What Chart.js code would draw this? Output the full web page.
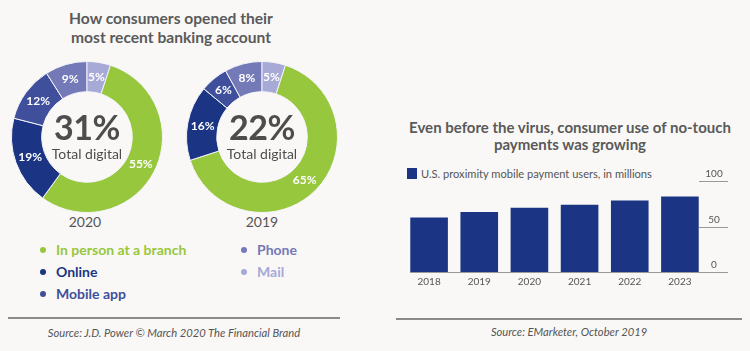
<!DOCTYPE html>
<html>
<head>
<meta charset="utf-8">
<script src="https://cdn.jsdelivr.net/npm/chart.js@4.4.1/dist/chart.umd.min.js"></script>
<style>
  html, body { margin: 0; padding: 0; }
  body {
    width: 750px; height: 351px; position: relative; overflow: hidden;
    background: #f9f8f6; font-family: Lato, "Open Sans", sans-serif; color: #555;
  }
  .abs { position: absolute; }
  .title { font-weight: 700; color: #5a5a5a; text-align: center; line-height: 19px; }
  canvas { position: absolute; }
  .center { text-align: center; color: #4d4d4d; }
  .big { font-size: 34px; font-weight: 700; line-height: 36px; letter-spacing: -0.5px; }
  .small { font-size: 14px; line-height: 17px; }
  .year { font-size: 14px; color: #555; width: 60px; text-align: center; }
  .leg { font-size: 14px; font-weight: 700; line-height: 16px; white-space: nowrap; }
  .leg span.dot { display: inline-block; width: 6px; height: 6px; border-radius: 50%; margin-right: 10px; vertical-align: 2px; }
  .rule { height: 2px; background: #8a8a8a; }
  .src { font-size: 11.2px; font-style: italic; color: #555; text-align: center; }
</style>
</head>
<body>
<div class="abs title" style="left:20px; top:9px; width:302px; font-size:15.6px;">How consumers opened their<br>most recent banking account</div>

<canvas id="donut2020" width="152" height="152" style="left:11px; top:61px;"></canvas>
<canvas id="donut2019" width="152" height="152" style="left:186px; top:61px;"></canvas>

<div class="abs center" style="left:37px; top:109px; width:100px;"><div class="big" id="total2020"></div><div class="small">Total digital</div></div>
<div class="abs center" style="left:212px; top:109px; width:100px;"><div class="big" id="total2019"></div><div class="small">Total digital</div></div>

<div class="abs year" style="left:55px; top:213px;">2020</div>
<div class="abs year" style="left:232px; top:213px;">2019</div>

<div class="abs" id="legendLeft" style="left:40px; top:242px;"></div>
<div class="abs" id="legendRight" style="left:241px; top:242px;"></div>

<div class="abs rule" style="left:8px; top:317px; width:332px;"></div>
<div class="abs src" style="left:8px; top:326px; width:332px;">Source: J.D. Power © March 2020 The Financial Brand</div>

<div class="abs title" style="left:395px; top:119px; width:350px; font-size:15px; line-height:17px;">Even before the virus, consumer use of no-touch<br>payments was growing</div>
<div class="abs" style="left:407px; top:167px; font-size:11.1px; line-height:14px; color:#555; white-space:nowrap;"><span style="display:inline-block; width:10px; height:11px; background:#1b3584; vertical-align:-1px; margin-right:4px;"></span>U.S. proximity mobile payment users, in millions</div>

<canvas id="bars" width="340" height="135" style="left:400px; top:160px;"></canvas>

<div class="abs rule" style="left:396px; top:318px; width:346px;"></div>
<div class="abs src" style="left:396px; top:325px; width:346px;">Source: EMarketer, October 2019</div>

<script>
// Donut data
const channels = ['In person at a branch', 'Online', 'Mobile app', 'Phone', 'Mail'];
const share2020 = [55, 19, 12, 9, 5];
const share2019 = [65, 16, 6, 8, 5];
const totalDigital2020 = '31%';
const totalDigital2019 = '22%';
const channelColors = ['#96c73d', '#1b3584', '#3f4f9c', '#7479b8', '#a7a9d6'];

// Bar data
const years = ['2018', '2019', '2020', '2021', '2022', '2023'];
const mobileUsers = [60, 66, 70.5, 74, 78.5, 83];
const yTicks = [0, 50, 100];

document.getElementById('total2020').textContent = totalDigital2020;
document.getElementById('total2019').textContent = totalDigital2019;

// legend in two columns like the original
function legendItem(i) {
  return '<div class="leg" style="color:' + channelColors[i] + '; margin-bottom:6px;"><span class="dot" style="background:' + channelColors[i] + '"></span>' + channels[i] + '</div>';
}
document.getElementById('legendLeft').innerHTML = [0, 1, 2].map(legendItem).join('');
document.getElementById('legendRight').innerHTML = [3, 4].map(legendItem).join('');

// write the % on each slice, at the arc's own center point
const sliceLabels = {
  id: 'sliceLabels',
  afterDatasetsDraw(chart) {
    const ctx = chart.ctx;
    const meta = chart.getDatasetMeta(0);
    ctx.save();
    ctx.font = '700 12px Lato, sans-serif';
    ctx.fillStyle = '#ffffff';
    ctx.textAlign = 'center';
    ctx.textBaseline = 'middle';
    meta.data.forEach((arc, i) => {
      const p = arc.getCenterPoint();
      ctx.fillText(chart.data.datasets[0].data[i] + '%', p.x, p.y);
    });
    ctx.restore();
  }
};

function makeDonut(id, values) {
  new Chart(document.getElementById(id), {
    type: 'doughnut',
    data: {
      labels: channels,
      datasets: [{
        data: values,
        backgroundColor: channelColors,
        borderColor: '#f4f4f8',
        borderWidth: 1
      }]
    },
    options: {
      responsive: false,
      animation: false,
      cutout: '60%',
      rotation: 18,
      layout: { padding: 0 },
      plugins: { legend: { display: false }, tooltip: { enabled: false } }
    },
    plugins: [sliceLabels]
  });
}
makeDonut('donut2020', share2020);
makeDonut('donut2019', share2019);

// short grid marks at the right with the value above, plus the baseline
const sideAxis = {
  id: 'sideAxis',
  afterDraw(chart) {
    const ctx = chart.ctx;
    const y = chart.scales.y;
    const area = chart.chartArea;
    ctx.save();
    ctx.strokeStyle = '#9a9a9a';
    ctx.lineWidth = 1;
    ctx.fillStyle = '#555';
    ctx.font = '10px Lato, sans-serif';
    ctx.textAlign = 'center';
    ctx.textBaseline = 'bottom';
    yTicks.forEach(v => {
      const py = Math.round(y.getPixelForValue(v)) + 0.5;
      ctx.beginPath();
      ctx.moveTo(v === 0 ? area.left + 6 : area.right - 6, py);
      ctx.lineTo(area.right + 23, py);
      ctx.stroke();
      ctx.fillText(String(v), area.right + 9, py - 3);
    });
    ctx.restore();
  }
};

new Chart(document.getElementById('bars'), {
  type: 'bar',
  data: {
    labels: years,
    datasets: [{
      label: 'U.S. proximity mobile payment users, in millions',
      data: mobileUsers,
      backgroundColor: '#1b3584',
      barPercentage: 0.75,
      categoryPercentage: 1
    }]
  },
  options: {
    responsive: false,
    animation: false,
    layout: { padding: { left: 4, right: 35, top: 21, bottom: 3 } },
    scales: {
      x: {
        grid: { display: false, drawTicks: false },
        border: { display: false },
        ticks: { color: '#555', font: { family: 'Lato', size: 10 }, padding: 4 }
      },
      y: { display: false, min: 0, max: 100 }
    },
    plugins: { legend: { display: false }, tooltip: { enabled: false } }
  },
  plugins: [sideAxis]
});
</script>
</body>
</html>
